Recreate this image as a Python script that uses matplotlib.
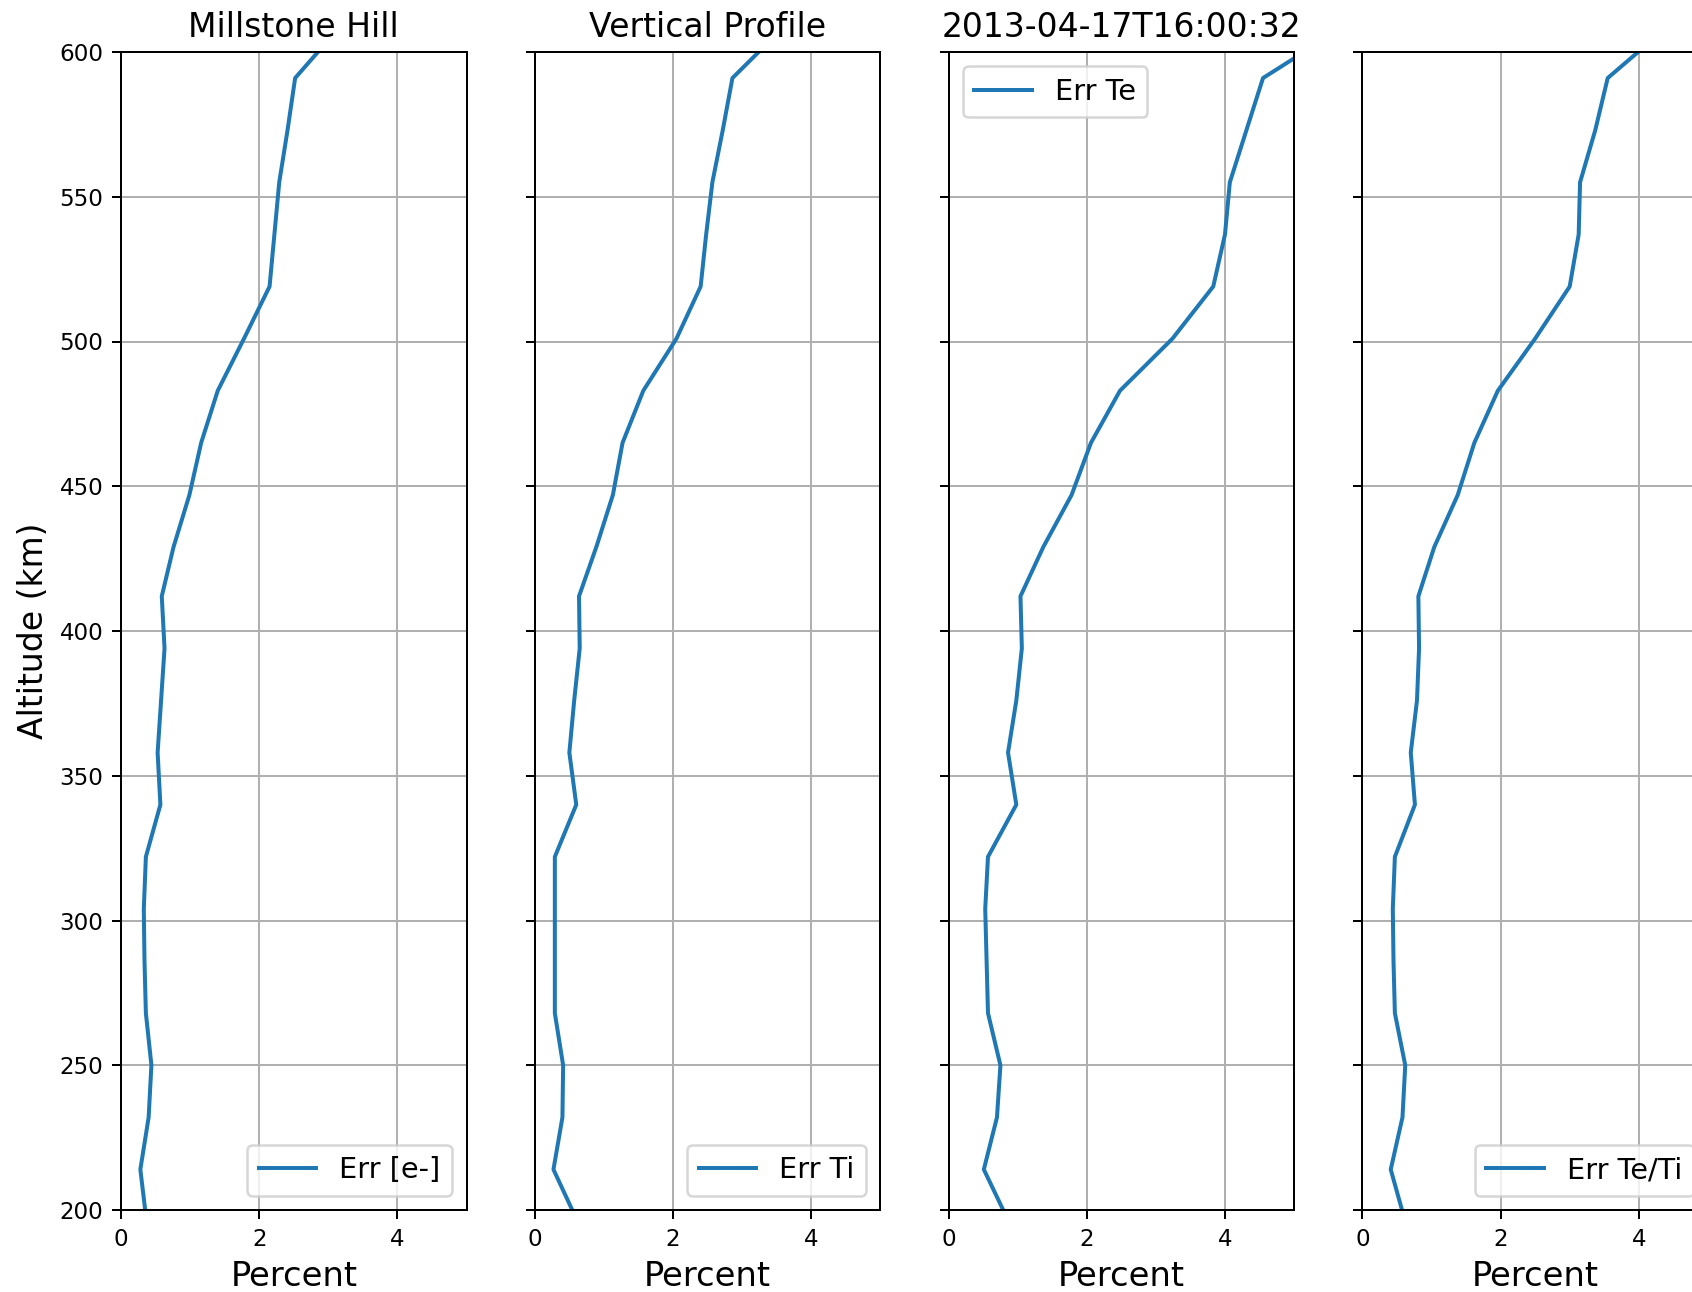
import numpy as np
import matplotlib
matplotlib.use("Agg")
from matplotlib import pyplot as plt

# altitude gates (km)
altitude = [196, 214, 232, 250, 268, 286, 304, 322, 340, 358, 376, 394,
            412, 429, 447, 465, 483, 501, 519, 537, 555, 573, 591, 609]

# percent errors
err_ne = [0.37, 0.28, 0.40, 0.44, 0.36, 0.34, 0.33, 0.36, 0.57, 0.53, 0.58, 0.63,
          0.59, 0.76, 0.99, 1.16, 1.40, 1.78, 2.15, 2.22, 2.29, 2.41, 2.52, 3.18]
err_ti = [0.62, 0.27, 0.40, 0.41, 0.29, 0.29, 0.29, 0.29, 0.60, 0.50, 0.57, 0.65,
          0.64, 0.89, 1.13, 1.27, 1.57, 2.05, 2.40, 2.48, 2.57, 2.72, 2.86, 3.62]
err_te = [0.87, 0.51, 0.70, 0.75, 0.57, 0.55, 0.53, 0.57, 0.98, 0.86, 0.98, 1.06,
          1.04, 1.37, 1.78, 2.06, 2.48, 3.24, 3.83, 4.00, 4.07, 4.31, 4.55, 5.74]
err_tr = [0.62, 0.41, 0.58, 0.62, 0.47, 0.45, 0.44, 0.47, 0.76, 0.70, 0.79, 0.82,
          0.81, 1.04, 1.38, 1.62, 1.96, 2.50, 3.00, 3.13, 3.15, 3.37, 3.55, 4.43]

series = [err_ne, err_ti, err_te, err_tr]
labels = ['Err [e-]', 'Err Ti', 'Err Te', 'Err Te/Ti']
titles = ['Millstone Hill', 'Vertical Profile', '2013-04-17T16:00:32', '']
legend_locs = ['lower right', 'lower right', 'upper left', 'lower right']

fig = plt.figure(figsize=(1692 / 180, 1292 / 180), dpi=180)

left0 = 121 / 1692
step = 413.8 / 1692
width = 345.5 / 1692
bottom = 82 / 1292
height = 1158 / 1292

axes = []
for i in range(4):
    ax = fig.add_axes([left0 + i * step, bottom, width, height])
    ax.plot(series[i], altitude, color='C0', lw=1.6, label=labels[i])
    ax.set_xlim(0, 5)
    ax.set_ylim(200, 600)
    ax.set_xticks([0, 2, 4])
    ax.set_yticks(np.arange(200, 601, 50))
    ax.grid(True)
    ax.tick_params(labelsize=9.2)
    ax.set_xlabel('Percent', fontsize=13.5)
    if titles[i]:
        ax.set_title(titles[i], fontsize=13.2)
    if i == 0:
        ax.set_ylabel('Altitude (km)', fontsize=13.2)
    else:
        ax.set_yticklabels([])
    ax.legend(loc=legend_locs[i], fontsize=11.5)
    axes.append(ax)

fig.savefig('out.png', dpi=180)
